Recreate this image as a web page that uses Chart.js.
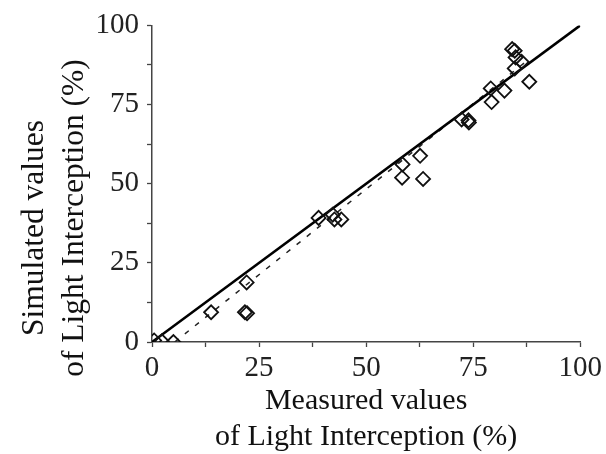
<!DOCTYPE html>
<html>
<head>
<meta charset="utf-8">
<title>Light interception: simulated vs measured</title>
<script src="https://cdn.jsdelivr.net/npm/chart.js@4.4.0/dist/chart.umd.min.js"></script>
<style>
  html, body { margin: 0; padding: 0; background: #fff; }
  canvas { display: block; }
</style>
</head>
<body>
<canvas id="liChart" width="606" height="454"></canvas>
<script>
// Measured vs simulated light interception (%)
const measured  = [0.5, 2.3, 5.0, 13.8, 22.1, 21.7, 22.2, 38.9, 42.2, 42.6, 44.2,
                   58.5, 58.4, 62.6, 63.3, 72.3, 73.9, 74.0, 79.1, 79.3, 82.3,
                   84.1, 84.7, 84.9, 86.3, 84.7, 88.1];
const simulated = [0.5, 0.2, 0.0, 9.4, 18.8, 9.4, 9.1, 39.2, 40.2, 38.7, 38.7,
                   56.1, 51.9, 58.8, 51.5, 70.3, 70.0, 69.3, 80.1, 75.8, 79.4,
                   92.5, 92.0, 89.9, 88.5, 86.4, 82.2];

// 1:1 line and fitted regression line (end points)
const oneToOneX = [0, 100];
const oneToOneY = [0, 100];
const fitX = [5.3, 88];
const fitY = [0, 89.3];

// axis ticks
const tickValues = [0, 25, 50, 75, 100];

const xTitle = ['Measured values', 'of Light Interception (%)'];
const yTitle = ['Simulated values', 'of Light Interception (%)'];

const toPoints = (xs, ys) => xs.map((x, i) => ({ x: x, y: ys[i] }));

const serif = '"Liberation Serif", "Times New Roman", serif';

// axis titles drawn by hand so the two lines sit where they should
const axisTitles = {
    id: 'axisTitles',
    afterDraw(chart) {
        const ctx = chart.ctx;
        const area = chart.chartArea;
        ctx.save();
        ctx.fillStyle = '#111';
        ctx.font = '30px ' + serif;
        ctx.textAlign = 'center';
        ctx.textBaseline = 'alphabetic';
        const cx = (area.left + area.right) / 2;
        ctx.fillText(xTitle[0], cx, 409);
        ctx.fillText(xTitle[1], cx, 445);
        ctx.restore();

        // vertical title, two lines
        const lines = [[yTitle[0], 43, 228], [yTitle[1], 83, 218]];
        lines.forEach(function(l) {
            ctx.save();
            ctx.fillStyle = '#111';
            ctx.font = '31.5px ' + serif;
            ctx.textAlign = 'center';
            ctx.textBaseline = 'alphabetic';
            ctx.translate(l[1], l[2]);
            ctx.rotate(-Math.PI / 2);
            ctx.fillText(l[0], 0, 0);
            ctx.restore();
        });
    }
};

function axisOptions(fitFn, pad) {
    return {
        type: 'linear',
        min: 0,
        max: 100,
        afterBuildTicks: function(scale) {
            // majors every 25, minors halfway between
            const t = [];
            for (let i = 0; i < tickValues.length; i++) {
                t.push({ value: tickValues[i] });
                if (i < tickValues.length - 1) {
                    t.push({ value: (tickValues[i] + tickValues[i + 1]) / 2 });
                }
            }
            scale.ticks = t;
        },
        afterFit: fitFn,
        ticks: {
            autoSkip: false,
            maxRotation: 0,
            color: '#222',
            padding: pad,
            font: { family: serif, size: 29 },
            callback: function(value) {
                return tickValues.includes(value) ? String(value) : '';
            }
        },
        grid: {
            drawOnChartArea: false,
            drawTicks: true,
            tickLength: 5,
            tickColor: '#444',
            tickWidth: 1.3
        },
        border: { color: '#444', width: 1.5 }
    };
}

new Chart(document.getElementById('liChart'), {
    type: 'scatter',
    data: {
        datasets: [
            {
                label: 'observations',
                data: toPoints(measured, simulated),
                pointStyle: 'rectRot',
                pointRadius: 7,
                pointBorderWidth: 1.8,
                borderColor: '#111',
                backgroundColor: 'rgba(0,0,0,0)',
                showLine: false
            },
            {
                label: '1:1',
                data: toPoints(oneToOneX, oneToOneY),
                showLine: true,
                borderColor: '#000',
                borderWidth: 2.6,
                pointRadius: 0
            },
            {
                label: 'regression',
                data: toPoints(fitX, fitY),
                showLine: true,
                borderColor: '#222',
                borderWidth: 1.5,
                borderDash: [5, 8],
                pointRadius: 0
            }
        ]
    },
    options: {
        responsive: false,
        animation: false,
        layout: { padding: { left: 0, top: 23, right: 24, bottom: 0 } },
        plugins: {
            legend: { display: false },
            tooltip: { enabled: false }
        },
        scales: {
            x: axisOptions(function(scale) { scale.height = 112; }, 4),
            y: axisOptions(function(scale) { scale.width = 152; }, 8)
        }
    },
    plugins: [axisTitles]
});
</script>
</body>
</html>
